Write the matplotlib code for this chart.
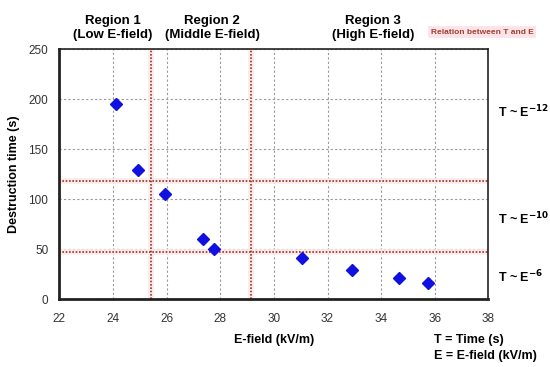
import matplotlib
matplotlib.use('Agg')
import matplotlib.pyplot as plt

plt.rcParams['font.family'] = ['Liberation Sans', 'DejaVu Sans']

# data
e_field = [24.1, 24.95, 25.95, 27.35, 27.75, 31.05, 32.9, 34.65, 35.75]
destruction_time = [195, 129, 105, 60, 50, 41, 29, 21, 16]

region_bounds = [25.4, 29.15]      # E-field where regions change
time_bounds = [118, 47]            # horizontal guide lines
region_titles = ["Region 1\n(Low E-field)", "Region 2\n(Middle E-field)", "Region 3\n(High E-field)"]
region_centers = [24.0, 27.7, 33.7]
relation_labels = [r"T ~ E$^{\mathbf{-12}}$", r"T ~ E$^{\mathbf{-10}}$", r"T ~ E$^{\mathbf{-6}}$"]
relation_y = [187, 80, 22]

x_ticks = list(range(22, 39, 2))
y_ticks = list(range(0, 251, 50))

fig = plt.figure(figsize=(5.5, 3.67), dpi=100)
ax = fig.add_axes([0.108, 0.185, 0.78, 0.681])

ax.set_xlim(22, 38)
ax.set_ylim(0, 250)
ax.set_xticks(x_ticks)
ax.set_yticks(y_ticks)
ax.tick_params(length=0, labelsize=8.5, labelcolor='#333333')
ax.tick_params(axis='x', pad=10)
ax.tick_params(axis='y', pad=8)
ax.grid(True, color='#9a9a9a', linestyle=(0, (2, 2)), linewidth=0.8)
ax.set_axisbelow(True)

for s in ax.spines.values():
    s.set_color('#222222')
    s.set_linewidth(1.2)
ax.spines['left'].set_linewidth(2)
ax.spines['bottom'].set_linewidth(2)

# region borders: faint pink band with dotted brown line
for xb in region_bounds:
    ax.axvline(xb, color='#fde9ee', linewidth=4, zorder=1)
    ax.axvline(xb, color='#8e3a16', linestyle=(0, (1, 1)), linewidth=1.2, zorder=2)
for yb in time_bounds:
    ax.axhline(yb, color='#fde9ee', linewidth=4, zorder=1)
    ax.axhline(yb, color='#8e3a16', linestyle=(0, (1, 1)), linewidth=1.2, zorder=2)

ax.plot(e_field, destruction_time, linestyle='none', marker='D', markersize=6,
        color='#1010e0', markeredgecolor='#1010e0', zorder=3)

ax.set_ylabel("Destruction time (s)", fontsize=9, fontweight='bold', labelpad=6)

# titles above each region
for cx, t in zip(region_centers, region_titles):
    ax.text(cx, 258, t, ha='center', va='bottom', fontsize=9.5, fontweight='bold',
            linespacing=1.2, transform=ax.transData, clip_on=False)

fig.text(0.877, 0.912, "Relation between T and E", ha='center', va='center', fontsize=6,
         fontweight='bold', color='#a0402a',
         bbox=dict(boxstyle='square,pad=0.3', facecolor='#fde4ea', edgecolor='none'))

for y, t in zip(relation_y, relation_labels):
    ax.text(38.35, y, t, ha='left', va='center', fontsize=9, fontweight='bold',
            clip_on=False)

fig.text(0.498, 0.073, "E-field (kV/m)", ha='center', va='center', fontsize=9, fontweight='bold')
fig.text(0.79, 0.073, "T = Time (s)", ha='left', va='center', fontsize=9, fontweight='bold')
fig.text(0.79, 0.03, "E = E-field (kV/m)", ha='left', va='center', fontsize=9, fontweight='bold')

fig.savefig('out.png', dpi=100)
